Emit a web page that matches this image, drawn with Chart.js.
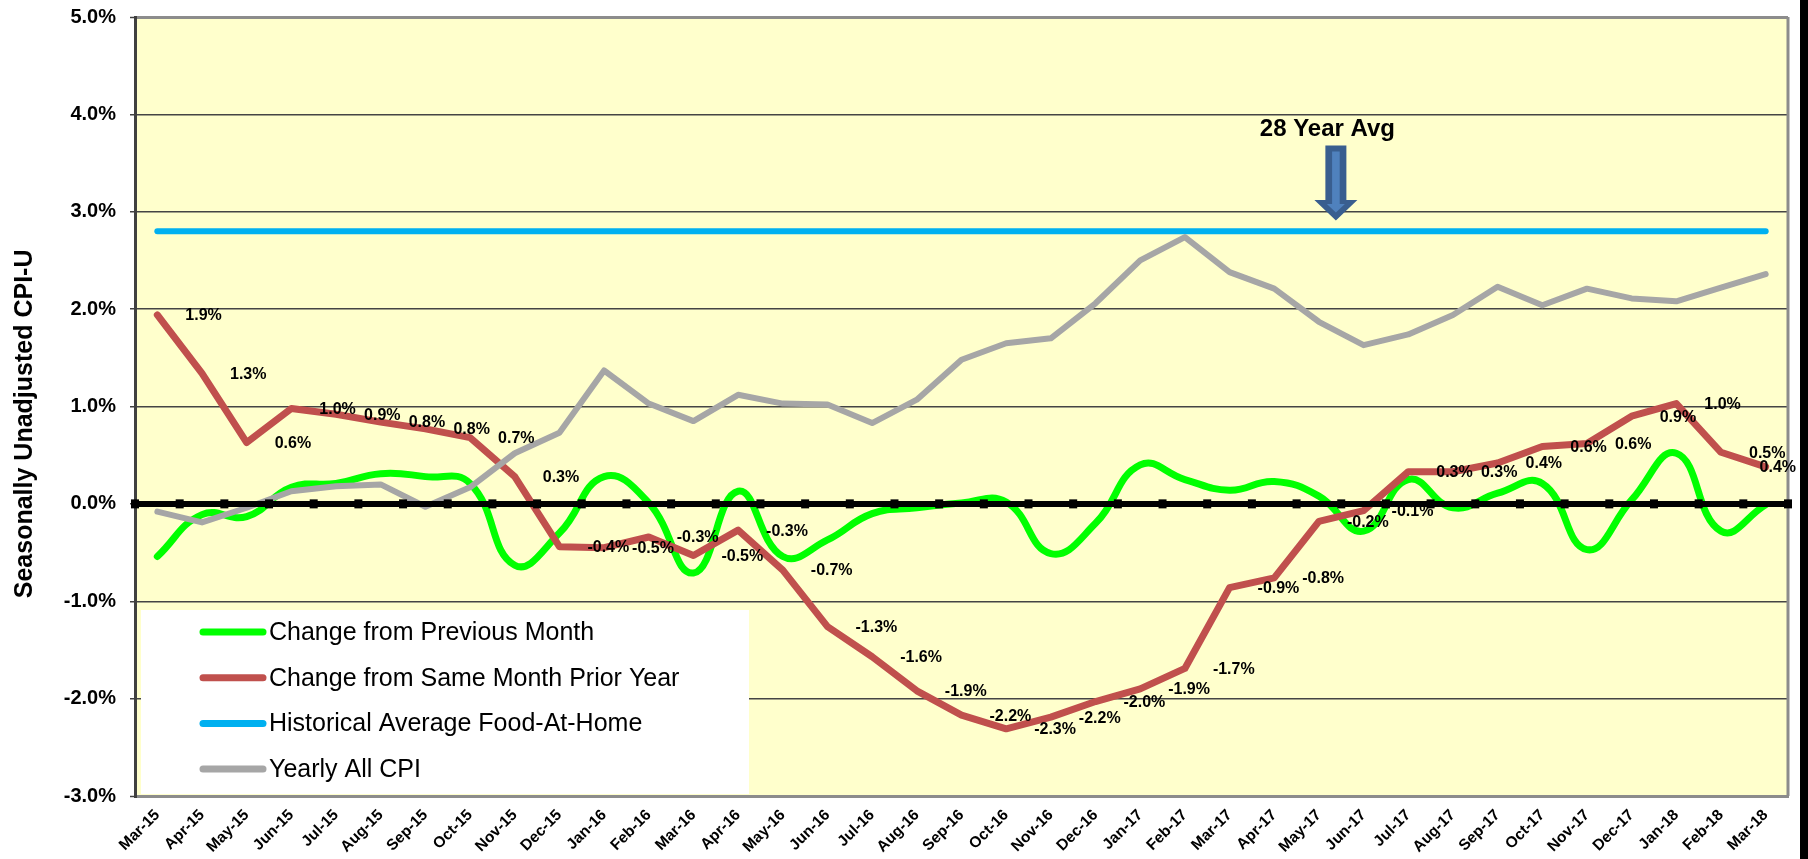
<!DOCTYPE html>
<html>
<head>
<meta charset="utf-8">
<script src="https://cdn.jsdelivr.net/npm/chart.js@4.4.1/dist/chart.umd.min.js"></script>
<style>
  html, body { margin: 0; padding: 0; background: #fff; }
  #wrap { width: 1808px; height: 859px; }
</style>
</head>
<body>
<div id="wrap"><canvas id="cpiChart" width="1808" height="859"></canvas></div>
<script>
// Dados
const months = ["Mar-15", "Apr-15", "May-15", "Jun-15", "Jul-15", "Aug-15", "Sep-15", "Oct-15", "Nov-15", "Dec-15",
  "Jan-16", "Feb-16", "Mar-16", "Apr-16", "May-16", "Jun-16", "Jul-16", "Aug-16", "Sep-16", "Oct-16", "Nov-16", "Dec-16",
  "Jan-17", "Feb-17", "Mar-17", "Apr-17", "May-17", "Jun-17", "Jul-17", "Aug-17", "Sep-17", "Oct-17", "Nov-17", "Dec-17",
  "Jan-18", "Feb-18", "Mar-18"];

// Change from Previous Month
const monthlyChange = [-0.54, -0.11, -0.13, 0.17, 0.21, 0.31, 0.28, 0.21, -0.63, -0.30,
  0.28, 0.01, -0.71, 0.13, -0.54, -0.37, -0.10, -0.04, 0.01, 0.02, -0.51, -0.20,
  0.40, 0.25, 0.14, 0.23, 0.08, -0.28, 0.25, -0.04, 0.11, 0.21, -0.47, 0.04,
  0.52, -0.28, -0.01];

// Change from Same Month Prior Year
const yearlyChange = [1.94, 1.34, 0.63, 0.98, 0.92, 0.84, 0.77, 0.68, 0.28, -0.44,
  -0.45, -0.34, -0.53, -0.27, -0.68, -1.26, -1.57, -1.92, -2.17, -2.31, -2.19, -2.03,
  -1.90, -1.69, -0.86, -0.76, -0.18, -0.07, 0.33, 0.33, 0.42, 0.59, 0.62, 0.90,
  1.03, 0.53, 0.38];

// rótulos mostrados sobre a linha anual
const yearlyLabels = [1.9, 1.3, 0.6, 1.0, 0.9, 0.8, 0.8, 0.7, 0.3, -0.4,
  -0.5, -0.3, -0.5, -0.3, -0.7, -1.3, -1.6, -1.9, -2.2, -2.3, -2.2, -2.0,
  -1.9, -1.7, -0.9, -0.8, -0.2, -0.1, 0.3, 0.3, 0.4, 0.6, 0.6, 0.9,
  1.0, 0.5, 0.4];

// Historical Average Food-At-Home
const historicalAvg = [2.8, 2.8, 2.8, 2.8, 2.8, 2.8, 2.8, 2.8, 2.8, 2.8,
  2.8, 2.8, 2.8, 2.8, 2.8, 2.8, 2.8, 2.8, 2.8, 2.8, 2.8, 2.8,
  2.8, 2.8, 2.8, 2.8, 2.8, 2.8, 2.8, 2.8, 2.8, 2.8, 2.8, 2.8,
  2.8, 2.8, 2.8];

// Yearly All CPI
const allCpi = [-0.08, -0.19, -0.04, 0.13, 0.18, 0.20, -0.03, 0.17, 0.52, 0.73,
  1.37, 1.03, 0.85, 1.12, 1.03, 1.02, 0.83, 1.07, 1.48, 1.65, 1.70, 2.06,
  2.50, 2.74, 2.38, 2.21, 1.87, 1.63, 1.74, 1.94, 2.23, 2.04, 2.21, 2.11,
  2.08, 2.22, 2.36];

const yTicks = [-3, -2, -1, 0, 1, 2, 3, 4, 5];

// anotação "28 Year Avg" (em unidades dos eixos)
const avgNote = { text: "28 Year Avg", x: 26.19, y: 3.85, arrowX: 26.38, arrowTop: 3.68, arrowNeck: 3.12, arrowTip: 2.91 };

const FONT = "'Liberation Sans', Arial, sans-serif";

// Fundo amarelo da área do gráfico
const plotBackground = {
  id: "plotBackground",
  beforeDraw(chart) {
    const { ctx, chartArea: a } = chart;
    ctx.save();
    ctx.fillStyle = "#ffffff";
    ctx.fillRect(0, 0, chart.width, chart.height);
    ctx.fillStyle = "#000000";
    ctx.fillRect(chart.width - 8, 0, 8, chart.height);
    ctx.fillStyle = "#ffffcc";
    ctx.fillRect(a.left, a.top, a.right - a.left, a.bottom - a.top);
    ctx.restore();
  },
};

// Legenda em caixa branca dentro do gráfico
const legendBox = {
  id: "legendBox",
  beforeDatasetsDraw(chart) {
    const { ctx, chartArea: a } = chart;
    ctx.save();
    // borda direita
    ctx.strokeStyle = "#8c8c8c";
    ctx.lineWidth = 3;
    ctx.beginPath();
    ctx.moveTo(a.right, a.top);
    ctx.lineTo(a.right, a.bottom);
    ctx.stroke();

    const left = a.left + 6, top = a.bottom - 186;
    ctx.fillStyle = "#ffffff";
    ctx.fillRect(left, top, 608, 184);

    ctx.font = "25px " + FONT;
    ctx.textBaseline = "middle";
    ctx.textAlign = "left";
    chart.data.datasets.forEach((ds, i) => {
      const y = top + 22 + i * 45.7;
      ctx.strokeStyle = ds.borderColor;
      ctx.lineWidth = 7;
      ctx.lineCap = "round";
      ctx.beginPath();
      ctx.moveTo(left + 62, y);
      ctx.lineTo(left + 122, y);
      ctx.stroke();
      ctx.fillStyle = "#000000";
      ctx.fillText(ds.label, left + 128, y + 1);
    });
    ctx.restore();
  },
};

// Eixo zero, rótulos de dados e anotação
const overlays = {
  id: "overlays",
  afterDatasetsDraw(chart) {
    const { ctx, chartArea: a } = chart;
    const xs = chart.scales.x, ys = chart.scales.y;
    ctx.save();

    // linha do zero com marcas
    const y0 = ys.getPixelForValue(0);
    ctx.strokeStyle = "#000000";
    ctx.lineWidth = 6;
    ctx.beginPath();
    ctx.moveTo(a.left, y0);
    ctx.lineTo(a.right, y0);
    ctx.stroke();
    ctx.fillStyle = "#000000";
    for (let i = 0; i <= months.length; i++) {
      const x = xs.getPixelForValue(i - 0.5);
      ctx.fillRect(x - 4, y0 - 4.5, 8, 9);
    }

    // rótulos da série anual
    ctx.font = "bold 16px " + FONT;
    ctx.textBaseline = "middle";
    ctx.textAlign = "left";
    yearlyChange.forEach((v, i) => {
      const txt = yearlyLabels[i].toFixed(1) + "%";
      const w = ctx.measureText(txt).width;
      const x = Math.min(xs.getPixelForValue(i) + 28, a.right + 8 - w);
      ctx.fillText(txt, x, ys.getPixelForValue(v) + 1);
    });

    // seta "28 Year Avg"
    const cx = xs.getPixelForValue(avgNote.arrowX);
    const top = ys.getPixelForValue(avgNote.arrowTop);
    const neck = ys.getPixelForValue(avgNote.arrowNeck);
    const tip = ys.getPixelForValue(avgNote.arrowTip);
    const arrow = (sw, hw, t, n, p) => {
      ctx.beginPath();
      ctx.moveTo(cx - sw, t);
      ctx.lineTo(cx + sw, t);
      ctx.lineTo(cx + sw, n);
      ctx.lineTo(cx + hw, n);
      ctx.lineTo(cx, p);
      ctx.lineTo(cx - hw, n);
      ctx.lineTo(cx - sw, n);
      ctx.closePath();
      ctx.fill();
    };
    ctx.fillStyle = "#395e8f";
    arrow(10.5, 21.5, top, neck, tip);
    ctx.fillStyle = "#4f81bd";
    arrow(3.8, 9, top + 6, neck + 4, tip - 8);

    ctx.fillStyle = "#000000";
    ctx.font = "bold 24px " + FONT;
    ctx.textAlign = "center";
    ctx.fillText(avgNote.text, xs.getPixelForValue(avgNote.x), ys.getPixelForValue(avgNote.y));
    ctx.restore();
  },
};

const lineStyle = {
  pointRadius: 0,
  borderCapStyle: "round",
  borderJoinStyle: "round",
  fill: false,
};

new Chart(document.getElementById("cpiChart").getContext("2d"), {
  type: "line",
  data: {
    labels: months,
    datasets: [
      { ...lineStyle, label: "Change from Previous Month", data: monthlyChange, borderColor: "#00ff00", borderWidth: 7, tension: 0.45, order: 4 },
      { ...lineStyle, label: "Change from Same Month Prior Year", data: yearlyChange, borderColor: "#c0504d", borderWidth: 7, tension: 0, order: 3 },
      { ...lineStyle, label: "Historical Average Food-At-Home", data: historicalAvg, borderColor: "#00b0f0", borderWidth: 6, tension: 0, order: 2 },
      { ...lineStyle, label: "Yearly All CPI", data: allCpi, borderColor: "#a6a6a6", borderWidth: 6, tension: 0, order: 1 },
    ],
  },
  options: {
    responsive: false,
    devicePixelRatio: 1,
    animation: false,
    events: [],
    layout: { padding: { left: 0, top: 17, right: 20, bottom: 0 } },
    plugins: {
      legend: { display: false },
      tooltip: { enabled: false },
    },
    scales: {
      x: {
        type: "category",
        offset: true,
        grid: { display: false, drawTicks: false },
        border: { display: true, color: "#8c8c8c", width: 3 },
        ticks: {
          autoSkip: false,
          maxRotation: 45,
          minRotation: 45,
          padding: 10,
          color: "#000000",
          font: { family: FONT, size: 15.5, weight: "bold" },
        },
        afterFit(scale) {
          scale.height = 63;
          scale.paddingLeft = 0;
          scale.paddingRight = 0;
        },
      },
      y: {
        min: -3,
        max: 5,
        afterBuildTicks(scale) { scale.ticks = yTicks.map((v) => ({ value: v })); },
        grid: {
          color: (c) => (c.tick && (c.tick.value === 5 || c.tick.value === -3) ? "#8c8c8c" : "#444444"),
          lineWidth: (c) => (c.tick && (c.tick.value === 5 || c.tick.value === -3) ? 3 : 1.5),
          tickColor: "#404040",
          tickLength: 5,
          tickWidth: 1.5,
        },
        border: { display: true, color: "#404040", width: 3 },
        ticks: {
          padding: 14,
          color: "#000000",
          font: { family: FONT, size: 20, weight: "bold" },
          callback: (v) => Number(v).toFixed(1) + "%",
        },
        title: {
          display: true,
          text: "Seasonally Unadjusted CPI-U     ",
          color: "#000000",
          padding: { top: 10, bottom: 0 },
          font: { family: FONT, size: 25, weight: "bold" },
        },
        afterFit(scale) {
          scale.width = 135;
          scale.paddingTop = 0;
          scale.paddingBottom = 0;
        },
      },
    },
  },
  plugins: [plotBackground, legendBox, overlays],
});
</script>
</body>
</html>
